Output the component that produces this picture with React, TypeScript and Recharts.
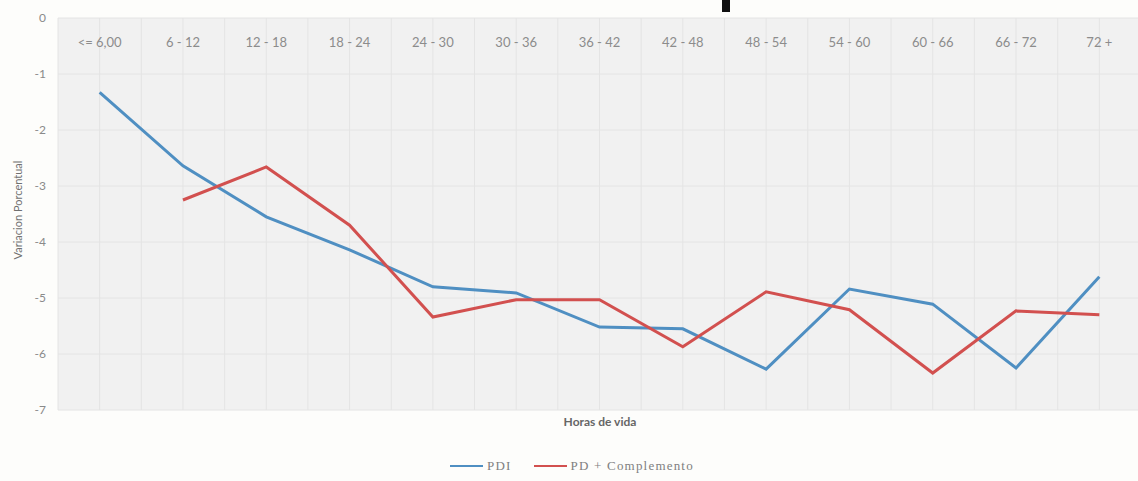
import React from 'react';
import { LineChart, Line, XAxis, YAxis, CartesianGrid } from 'recharts';

const categories = ['<= 6,00', '6 - 12', '12 - 18', '18 - 24', '24 - 30', '30 - 36', '36 - 42', '42 - 48', '48 - 54', '54 - 60', '60 - 66', '66 - 72', '72 +'];
const pdi = [-1.33, -2.64, -3.55, -4.14, -4.8, -4.91, -5.52, -5.55, -6.27, -4.84, -5.11, -6.25, -4.62];
const pdComplemento = [null, -3.25, -2.66, -3.7, -5.34, -5.03, -5.03, -5.87, -4.89, -5.21, -6.34, -5.23, -5.3];
const yTicks = [0, -1, -2, -3, -4, -5, -6, -7];
const series = [
  { key: 'pdi', name: 'PDI', color: '#4f8fc2' },
  { key: 'pdc', name: 'PD + Complemento', color: '#d2504f' },
];

const data = categories.map((c, i) => ({ x: i, label: c, pdi: pdi[i], pdc: pdComplemento[i] }));
// grid lines every half category, labels only on whole ones
const xTicks = Array.from({ length: categories.length * 2 + 1 }, (_, i) => i / 2 - 0.5);

const TOP = 18;

const renderCategoryTick = (props: any) => {
  const { x, payload, index } = props;
  const v = payload.value;
  const idx = Math.round(v);
  if (Math.abs(v - idx) > 0.01) return <g key={index} />;
  return (
    <text key={index} x={x} y={TOP + 29} textAnchor="middle" fontSize={13} fill="#8c8c8c" fontFamily="Lato, sans-serif">
      {categories[idx]}
    </text>
  );
};

const YLabel = (props: any) => {
  const vb = props.viewBox || { x: 18, y: TOP, height: 392 };
  const cx = vb.x - 1;
  const cy = vb.y + vb.height / 2 - 4;
  return (
    <text x={cx} y={cy} transform={`rotate(-90 ${cx} ${cy})`} textAnchor="middle" dominantBaseline="central" fontSize={11} fill="#707070" fontFamily="Lato, sans-serif">
      Variacion Porcentual
    </text>
  );
};

export default function App() {
  return (
    <div style={{ position: 'absolute', left: 0, top: 0, width: 1138, height: 481, overflow: 'hidden', background: '#fdfdfb' }}>
      {/* bottom of a cropped title glyph */}
      <div style={{ position: 'absolute', left: 722, top: 0, width: 8, height: 12, background: '#111' }} />
      <LineChart width={1141} height={481} data={data} margin={{ top: TOP - 1, right: 0, bottom: 71, left: 18 }}>
        <CartesianGrid fill="#f1f1f1" stroke="#e4e4e4" strokeWidth={1} />
        <XAxis
          dataKey="x"
          type="number"
          domain={[-0.5, categories.length - 0.5]}
          ticks={xTicks}
          orientation="top"
          height={1}
          axisLine={false}
          tickLine={false}
          tick={renderCategoryTick}
          interval={0}
        />
        <YAxis
          domain={[-7, 0]}
          ticks={yTicks}
          width={40}
          axisLine={false}
          tickLine={false}
          tickMargin={6}
          interval={0}
          tick={{ fontSize: 12, fill: '#8a8a8a', fontFamily: 'Lato, sans-serif' }}
          label={{ content: <YLabel /> }}
        />
        {series.map((s) => (
          <Line key={s.key} type="linear" dataKey={s.key} name={s.name} stroke={s.color} strokeWidth={3} dot={false} isAnimationActive={false} />
        ))}
      </LineChart>
      <div style={{ position: 'absolute', left: 0, width: 1200, top: 414, textAlign: 'center', fontFamily: 'Lato, sans-serif', fontSize: 12, fontWeight: 700, color: '#666' }}>
        Horas de vida
      </div>
      <div style={{ position: 'absolute', left: 450, top: 458, display: 'flex', alignItems: 'center', fontFamily: 'Liberation Serif, serif', fontSize: 13, letterSpacing: 1.2, color: '#808080' }}>
        {series.map((s, i) => (
          <div key={s.key} style={{ display: 'flex', alignItems: 'center', marginRight: i === 0 ? 22 : 0 }}>
            <span style={{ display: 'inline-block', width: 33, height: 2, background: s.color, marginRight: 4 }} />
            <span>{s.name}</span>
          </div>
        ))}
      </div>
    </div>
  );
}
